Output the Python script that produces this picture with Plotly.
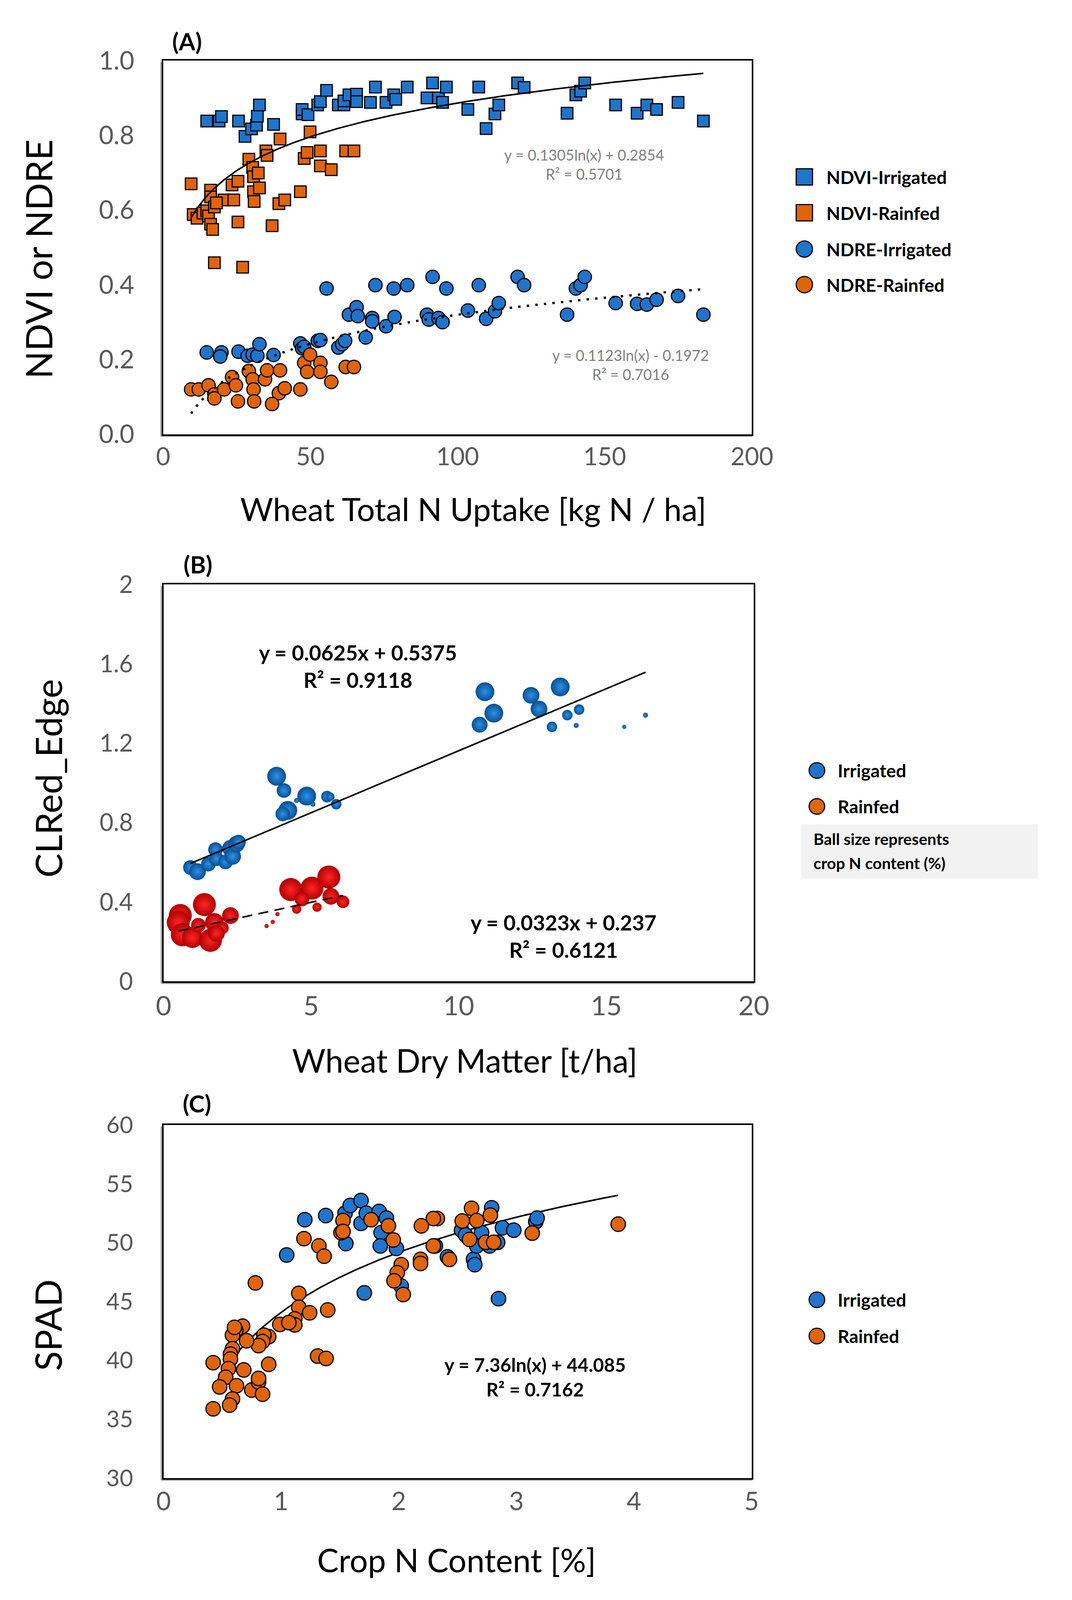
import numpy as np
import plotly.graph_objects as go

W, H = 2745, 4762
FONT = "Lato, 'Open Sans', sans-serif"
BLUE = "#1f74cc"
ORANGE = "#e0640b"
GRAY_TXT = "#595959"

# ---------------- Panel A data ----------------
ndvi_irr_x = [14.8, 19.0, 19.8, 25.6, 27.8, 30.0, 31.7, 32.0, 32.7, 37.5, 47.2, 47.2, 49.2, 52.5, 53.4,
              55.5, 59.5, 61.4, 61.4, 63.1, 65.7, 65.7, 70.4, 72.1, 75.7, 78.3, 79.0, 82.9, 89.6, 91.5,
              93.5, 94.9, 96.2, 103.5, 107.2, 109.7, 112.7, 114.0, 120.4, 122.6, 137.2, 140.2, 141.8,
              143.2, 153.7, 161.0, 164.3, 167.6, 174.9, 183.5]
ndvi_irr_y = [0.838, 0.838, 0.850, 0.838, 0.797, 0.817, 0.827, 0.851, 0.881, 0.829, 0.857, 0.869, 0.855,
              0.881, 0.890, 0.920, 0.881, 0.881, 0.892, 0.908, 0.910, 0.890, 0.888, 0.929, 0.888, 0.908,
              0.896, 0.929, 0.900, 0.940, 0.900, 0.888, 0.929, 0.869, 0.929, 0.818, 0.857, 0.881, 0.940,
              0.928, 0.859, 0.908, 0.918, 0.940, 0.881, 0.859, 0.881, 0.869, 0.888, 0.838]

ndvi_rain_x = [9.5, 16.1, 16.1, 20.7, 24.0, 23.4, 25.4, 29.1, 30.4, 30.7, 32.3, 30.7, 32.7, 30.9, 34.9,
               35.3, 39.7, 39.3, 41.3, 46.6, 47.9, 48.9, 49.9, 53.4, 53.4, 57.1, 62.0, 64.8, 10.2, 11.5,
               13.5, 14.8, 15.4, 17.4, 18.1, 16.1, 16.8, 25.4, 37.0, 17.4, 27.0]
ndvi_rain_y = [0.670, 0.653, 0.635, 0.627, 0.627, 0.667, 0.677, 0.736, 0.714, 0.689, 0.699, 0.649, 0.659,
               0.623, 0.758, 0.746, 0.790, 0.617, 0.627, 0.649, 0.738, 0.754, 0.809, 0.758, 0.718, 0.708,
               0.758, 0.758, 0.588, 0.578, 0.592, 0.598, 0.584, 0.608, 0.619, 0.562, 0.548, 0.568, 0.558,
               0.459, 0.447]

ndre_irr_x = [14.8, 19.8, 19.4, 25.6, 28.7, 30.4, 32.0, 32.7, 37.5, 46.6, 47.2, 47.9, 52.5, 53.4, 55.5,
              59.5, 60.8, 61.8, 63.1, 65.7, 66.1, 68.8, 71.0, 71.0, 72.1, 75.7, 78.3, 78.6, 82.9, 89.6,
              90.2, 91.5, 93.5, 94.9, 96.2, 103.5, 107.2, 109.7, 112.7, 114.0, 120.4, 122.6, 137.2,
              140.2, 141.8, 143.2, 153.7, 161.0, 164.3, 167.6, 174.9, 183.5]
ndre_irr_y = [0.219, 0.219, 0.208, 0.221, 0.210, 0.213, 0.210, 0.241, 0.212, 0.243, 0.230, 0.234, 0.250,
              0.252, 0.390, 0.232, 0.241, 0.250, 0.320, 0.340, 0.316, 0.259, 0.311, 0.302, 0.399, 0.289,
              0.390, 0.314, 0.399, 0.320, 0.307, 0.421, 0.311, 0.300, 0.390, 0.331, 0.399, 0.309, 0.329,
              0.351, 0.421, 0.399, 0.320, 0.390, 0.399, 0.421, 0.351, 0.349, 0.347, 0.360, 0.370, 0.320]

ndre_rain_x = [9.5, 12.1, 15.4, 17.4, 17.4, 20.7, 23.4, 24.7, 25.4, 29.1, 30.4, 30.7, 30.9, 34.6, 35.3,
               39.7, 39.3, 41.3, 37.0, 46.6, 47.9, 48.9, 49.9, 53.4, 53.4, 57.1, 62.0, 64.8]
ndre_rain_y = [0.120, 0.120, 0.131, 0.107, 0.096, 0.120, 0.153, 0.131, 0.088, 0.169, 0.147, 0.120, 0.088,
               0.147, 0.171, 0.171, 0.110, 0.123, 0.081, 0.120, 0.191, 0.167, 0.213, 0.191, 0.167, 0.140,
               0.180, 0.180]

ndvi_fit = (0.1305, 0.2854)   # y = a ln(x) + b
ndre_fit = (0.1123, -0.1972)

# ---------------- Panel B data ----------------
b_irr_x = [10.89, 11.19, 10.71, 12.45, 12.72, 13.44, 14.08, 13.68, 13.16, 13.98, 15.61, 16.33, 3.83, 4.08,
           4.85, 5.54, 5.65, 5.85, 4.21, 4.04, 4.51, 5.06, 0.91, 1.15, 1.52, 1.76, 1.79, 2.10, 2.27, 2.34,
           2.47, 2.54]
b_irr_y = [1.460, 1.352, 1.294, 1.442, 1.373, 1.484, 1.370, 1.342, 1.283, 1.290, 1.283, 1.342, 1.034,
           0.962, 0.934, 0.931, 0.931, 0.893, 0.862, 0.844, 0.912, 0.893, 0.574, 0.553, 0.591, 0.664,
           0.618, 0.602, 0.671, 0.630, 0.692, 0.702]
b_irr_n = [3.15, 3.15, 2.66, 2.8, 2.8, 3.15, 1.75, 1.75, 1.75, 0.84, 0.7, 0.84, 3.15, 2.45, 3.15, 1.96,
           1.4, 1.75, 3.15, 2.45, 0.84, 0.84, 2.45, 2.8, 2.45, 2.45, 2.45, 2.45, 2.8, 2.8, 2.8, 2.45]

b_rain_x = [0.567, 0.499, 0.635, 0.975, 1.384, 1.588, 1.724, 1.996, 2.268, 1.179, 1.792, 3.49, 3.70, 3.86,
            4.31, 5.03, 5.60, 5.67, 4.51, 5.20, 6.08, 4.69]
b_rain_y = [0.332, 0.297, 0.235, 0.221, 0.387, 0.207, 0.297, 0.270, 0.332, 0.283, 0.242, 0.279, 0.300,
            0.339, 0.463, 0.470, 0.526, 0.429, 0.364, 0.374, 0.401, 0.415]
b_rain_n = [3.85, 3.85, 3.85, 3.5, 3.85, 3.85, 3.15, 2.1, 2.8, 2.45, 2.8, 0.7, 0.7, 0.7, 3.85, 3.85, 3.85,
            2.8, 1.54, 1.54, 2.1, 2.45]

b_irr_fit = (0.0625, 0.5375)  # y = a x + b
b_rain_fit = (0.0323, 0.237)

# ---------------- Panel C data ----------------
c_irr_x = [1.201, 1.047, 1.379, 1.543, 1.550, 1.587, 1.679, 1.679, 1.724, 1.833, 1.895, 1.850, 1.843,
           1.980, 1.707, 2.021, 2.414, 2.311, 2.534, 2.636, 2.646, 2.663, 2.704, 2.790, 2.848, 2.841,
           2.772, 2.882, 2.978, 3.165, 3.176, 2.568]
c_irr_y = [51.96, 48.96, 52.31, 52.51, 49.93, 53.17, 53.59, 51.65, 52.51, 52.66, 52.10, 50.86, 49.73,
           49.52, 45.74, 46.32, 48.80, 49.73, 51.07, 48.59, 48.14, 49.73, 50.86, 52.97, 45.25, 50.04,
           49.73, 51.27, 51.07, 51.79, 52.10, 50.66]

c_rain_x = [3.866, 3.135, 2.779, 2.619, 2.663, 2.540, 2.602, 2.738, 2.807, 2.328, 2.294, 2.192, 2.294,
            2.431, 2.185, 2.185, 2.021, 1.987, 1.960, 2.038, 1.953, 1.912, 1.765, 1.526, 1.509, 1.526,
            1.194, 1.321, 1.365, 0.781, 1.150, 1.150, 1.242, 1.396, 1.116, 1.116, 0.989, 1.065, 0.894,
            0.853, 0.842, 0.808, 0.706, 0.672, 0.614, 0.586, 0.603, 0.586, 0.569, 0.569, 0.552, 0.682,
            0.528, 0.620, 0.477, 0.750, 0.808, 0.808, 0.842, 0.894, 0.422, 0.586, 0.562, 0.422, 1.310,
            1.382]
c_rain_y = [51.58, 50.82, 52.35, 52.93, 51.89, 51.85, 50.28, 50.04, 50.04, 52.06, 52.06, 51.44, 49.73,
            48.59, 48.59, 48.24, 48.14, 47.45, 46.77, 45.60, 50.24, 51.44, 51.96, 51.89, 50.86, 50.96,
            50.35, 49.73, 48.86, 46.59, 45.70, 44.52, 44.05, 44.29, 43.53, 43.02, 43.06, 43.22, 42.02,
            42.15, 41.61, 41.26, 41.67, 42.91, 42.56, 42.15, 42.81, 40.99, 40.54, 40.12, 39.30, 39.19,
            38.57, 37.85, 37.75, 37.48, 38.16, 38.47, 37.13, 39.67, 39.81, 36.72, 36.20, 35.89, 40.37,
            40.17]
c_fit = (7.36, 44.085)

# ---------------- layout helpers ----------------
def px(x):
    return x / W

def py(y):
    return 1 - y / H

BOX = {  # plot areas in pixels: left, right, top, bottom
    "A": (409, 1959, 135, 1269),
    "B": (410, 1964, 1725, 2929),
    "C": (410, 1958, 3365, 4436),
}

fig = go.Figure()

def log_line(xs, fit):
    lx = np.linspace(min(xs), max(xs), 300)
    return lx, fit[0] * np.log(lx) + fit[1]

def lin_line(xs, fit):
    lx = np.array([min(xs), max(xs)])
    return lx, fit[0] * lx + fit[1]

mk_line = dict(color="black", width=3)

# Panel A
fig.add_trace(go.Scatter(x=ndvi_irr_x, y=ndvi_irr_y, mode="markers", xaxis="x", yaxis="y",
                         marker=dict(symbol="square", size=32, color=BLUE, line=mk_line)))
fig.add_trace(go.Scatter(x=ndvi_rain_x, y=ndvi_rain_y, mode="markers", xaxis="x", yaxis="y",
                         marker=dict(symbol="square", size=32, color=ORANGE, line=mk_line)))
fig.add_trace(go.Scatter(x=ndre_irr_x, y=ndre_irr_y, mode="markers", xaxis="x", yaxis="y",
                         marker=dict(symbol="circle", size=37, color=BLUE, line=mk_line)))
fig.add_trace(go.Scatter(x=ndre_rain_x, y=ndre_rain_y, mode="markers", xaxis="x", yaxis="y",
                         marker=dict(symbol="circle", size=37, color=ORANGE, line=mk_line)))
lx, ly = log_line(ndvi_irr_x + ndvi_rain_x, ndvi_fit)
fig.add_trace(go.Scatter(x=lx, y=ly, mode="lines", xaxis="x", yaxis="y",
                         line=dict(color="black", width=4)))
lx, ly = log_line(ndre_irr_x + ndre_rain_x, ndre_fit)
fig.add_trace(go.Scatter(x=lx, y=ly, mode="lines", xaxis="x", yaxis="y",
                         line=dict(color="black", width=6, dash="6px,16px")))

# Panel B (3D-looking balls, size = crop N content)
BALL_PX = 16.5
fig.add_trace(go.Scatter(x=b_irr_x, y=b_irr_y, mode="markers", xaxis="x2", yaxis="y2",
                         marker=dict(size=[n * BALL_PX for n in b_irr_n], color="#0a4f92", opacity=1,
                                     gradient=dict(type="radial", color="#2a92e6"),
                                     line=dict(width=0))))
fig.add_trace(go.Scatter(x=b_rain_x, y=b_rain_y, mode="markers", xaxis="x2", yaxis="y2",
                         marker=dict(size=[n * BALL_PX for n in b_rain_n], color="#b00000", opacity=1,
                                     gradient=dict(type="radial", color="#ff2626"),
                                     line=dict(width=0))))
lx, ly = lin_line(b_irr_x, b_irr_fit)
fig.add_trace(go.Scatter(x=lx, y=ly, mode="lines", xaxis="x2", yaxis="y2",
                         line=dict(color="black", width=4)))
lx, ly = lin_line(b_rain_x, b_rain_fit)
fig.add_trace(go.Scatter(x=lx, y=ly, mode="lines", xaxis="x2", yaxis="y2",
                         line=dict(color="black", width=4, dash="26px,16px")))

# Panel C
lx, ly = log_line(c_irr_x + c_rain_x, c_fit)
fig.add_trace(go.Scatter(x=lx, y=ly, mode="lines", xaxis="x3", yaxis="y3",
                         line=dict(color="black", width=4)))
fig.add_trace(go.Scatter(x=c_irr_x, y=c_irr_y, mode="markers", xaxis="x3", yaxis="y3",
                         marker=dict(symbol="circle", size=40, color=BLUE, line=mk_line)))
fig.add_trace(go.Scatter(x=c_rain_x, y=c_rain_y, mode="markers", xaxis="x3", yaxis="y3",
                         marker=dict(symbol="circle", size=40, color=ORANGE, line=mk_line)))

# Legend markers (overlay axis in reference-pixel units)
leg_items = [
    ("square", BLUE, 2097, 488, 45), ("square", ORANGE, 2097, 597, 45),
    ("circle", BLUE, 2097, 707, 45), ("circle", ORANGE, 2097, 815, 45),
    ("circle", BLUE, 2130, 2289, 43), ("circle", ORANGE, 2130, 2398, 43),
    ("circle", BLUE, 2130, 3895, 43), ("circle", ORANGE, 2130, 4005, 43),
]
for sym, col, lxp, lyp, sz in leg_items:
    fig.add_trace(go.Scatter(x=[lxp], y=[lyp], mode="markers", xaxis="x4", yaxis="y4",
                             cliponaxis=False,
                             marker=dict(symbol=sym, size=sz, color=col, line=dict(color="black", width=3))))

def axis(domain_px, rng, dtick, tickfont_size, fmt=None, horizontal=True, standoff=60):
    l, r, t, b = domain_px
    d = dict(range=rng, dtick=dtick, tick0=rng[0], showgrid=False, zeroline=False,
             showline=True, mirror=True, linecolor="black", linewidth=4, ticks="",
             tickfont=dict(family=FONT, size=tickfont_size, color=GRAY_TXT),
             ticklabelstandoff=standoff, fixedrange=True)
    if fmt:
        d["tickformat"] = fmt
    if horizontal:
        d["domain"] = [px(l), px(r)]
    else:
        d["domain"] = [py(b), py(t)]
    return d

layout = dict(
    autosize=True, margin=dict(l=0, r=0, t=0, b=0),
    paper_bgcolor="white", plot_bgcolor="rgba(0,0,0,0)", showlegend=False,
    xaxis=dict(axis(BOX["A"], [0, 200], 50, 68, horizontal=True, standoff=46), anchor="y"),
    yaxis=dict(axis(BOX["A"], [0, 1], 0.2, 70, fmt=".1f", horizontal=False, standoff=57), anchor="x"),
    xaxis2=dict(axis(BOX["B"], [0, 20], 5, 74, horizontal=True, standoff=46), anchor="y2"),
    yaxis2=dict(axis(BOX["B"], [0, 2], 0.4, 66, horizontal=False, standoff=62), anchor="x2"),
    xaxis3=dict(axis(BOX["C"], [0, 5], 1, 70, horizontal=True, standoff=40), anchor="y3"),
    yaxis3=dict(axis(BOX["C"], [30, 60], 5, 64, horizontal=False, standoff=62), anchor="x3"),
    xaxis4=dict(domain=[0, 1], range=[0, W], visible=False, anchor="y4", fixedrange=True),
    yaxis4=dict(domain=[0, 1], range=[H, 0], visible=False, anchor="x4", fixedrange=True),
)

def ann(text, x, y, size, color="black", bold=False, xanchor="center", angle=0, xref="paper", yref="paper"):
    return dict(text=text, x=x, y=y, xref=xref, yref=yref, showarrow=False, xanchor=xanchor,
                yanchor="middle", textangle=angle,
                font=dict(family=FONT, size=size, color=color, weight="bold" if bold else "normal"))

anns = [
    # panel labels
    ann("(A)", px(472), py(76), 66, bold=True),
    ann("(B)", px(501), py(1663), 66, bold=True),
    ann("(C)", px(498), py(3299), 66, bold=True),
    # axis titles
    ann("NDVI or NDRE", px(80), py(737), 100, angle=-90),
    ann("Wheat Total N Uptake [kg N / ha]", px(1225), py(1494), 88),
    ann("CLRed_Edge", px(106), py(2313), 100, angle=-90),
    ann("Wheat Dry Matter [t/ha]", px(1203), py(3168), 89),
    ann("SPAD", px(105), py(3972), 100, angle=-90),
    ann("Crop N Content [%]", px(1181), py(4684), 89),
    # equations
    ann("y = 0.1305ln(x) + 0.2854<br>R² = 0.5701", 143, 0.722, 41, color="#7f7f7f", xref="x", yref="y"),
    ann("y = 0.1123ln(x) - 0.1972<br>R² = 0.7016", 158.8, 0.186, 41, color="#7f7f7f", xref="x", yref="y"),
    ann("y = 0.0625x + 0.5375<br>R² = 0.9118", 6.59, 1.59, 58, bold=True, xref="x2", yref="y2"),
    ann("y = 0.0323x + 0.237<br>R² = 0.6121", 13.55, 0.23, 58, bold=True, xref="x2", yref="y2"),
    ann("y = 7.36ln(x) + 44.085<br>R² = 0.7162", 3.159, 38.6, 52, bold=True, xref="x3", yref="y3"),
    # legends
    ann("NDVI-Irrigated", px(2153), py(488), 50, bold=True, xanchor="left"),
    ann("NDVI-Rainfed", px(2153), py(597), 50, bold=True, xanchor="left"),
    ann("NDRE-Irrigated", px(2153), py(707), 50, bold=True, xanchor="left"),
    ann("NDRE-Rainfed", px(2153), py(815), 50, bold=True, xanchor="left"),
    ann("Irrigated", px(2183), py(2289), 50, bold=True, xanchor="left"),
    ann("Rainfed", px(2183), py(2398), 50, bold=True, xanchor="left"),
    ann("Ball size represents", px(2119), py(2497), 44, bold=True, xanchor="left"),
    ann("crop N content (%)", px(2119), py(2570), 44, bold=True, xanchor="left"),
    ann("Irrigated", px(2183), py(3895), 50, bold=True, xanchor="left"),
    ann("Rainfed", px(2183), py(4005), 50, bold=True, xanchor="left"),
]
layout["annotations"] = anns

shapes = [dict(type="rect", xref="paper", yref="paper", x0=px(2089), x1=px(2712),
               y0=py(2617), y1=py(2452), fillcolor="#f2f2f2", line=dict(width=0), layer="below")]
for l, r, t, b in BOX.values():
    shapes.append(dict(type="line", xref="paper", yref="paper", x0=px(l - 6), x1=px(l - 6),
                       y0=py(b + 6), y1=py(t + 4), line=dict(color="#9a9a9a", width=3), layer="below"))
    shapes.append(dict(type="line", xref="paper", yref="paper", x0=px(l - 6), x1=px(r + 2),
                       y0=py(b + 6), y1=py(b + 6), line=dict(color="#9a9a9a", width=3), layer="below"))
layout["shapes"] = shapes

fig.update_layout(**layout)

# Fill the browser window with no page margin; if the window is not exactly 2745x4762,
# scale the pixel-based sizes (fonts, markers, label offsets) to keep the proportions.
post = """
(function(){
var de=document.documentElement, bd=document.body;
de.style.margin='0'; de.style.overflow='hidden'; bd.style.margin='0'; bd.style.overflow='hidden';
var gd=document.getElementById('{plot_id}');
gd.style.width='100vw'; gd.style.height='100vh';
Plotly.Plots.resize(gd).then(function(){
  var fl=gd._fullLayout;
  var sx=fl.width/2745, sy=fl.height/4762;
  if (Math.abs(sx-1)<0.005 && Math.abs(sy-1)<0.005) return;
  var f=Math.sqrt(sx*sy);
  var upd={};
  ['xaxis','xaxis2','xaxis3'].forEach(function(a){
    upd[a+'.ticklabelstandoff']=gd.layout[a].ticklabelstandoff*sy;
    upd[a+'.tickfont.size']=gd.layout[a].tickfont.size*f;});
  ['yaxis','yaxis2','yaxis3'].forEach(function(a){
    upd[a+'.ticklabelstandoff']=gd.layout[a].ticklabelstandoff*sx;
    upd[a+'.tickfont.size']=gd.layout[a].tickfont.size*f;});
  (gd.layout.annotations||[]).forEach(function(an,i){
    upd['annotations['+i+'].font.size']=an.font.size*f;});
  Plotly.relayout(gd,upd);
  gd.data.forEach(function(t,i){
    if(!t.marker || t.marker.size===undefined) return;
    var s=t.marker.size;
    var ns=Array.isArray(s) ? [s.map(function(v){return v*f;})] : s*f;
    Plotly.restyle(gd,{'marker.size':ns},[i]);
  });
});
})();
"""
fig.write_html("out.html", default_width="100vw", default_height="100vh",
               config={"responsive": True, "displayModeBar": False}, post_script=post)
